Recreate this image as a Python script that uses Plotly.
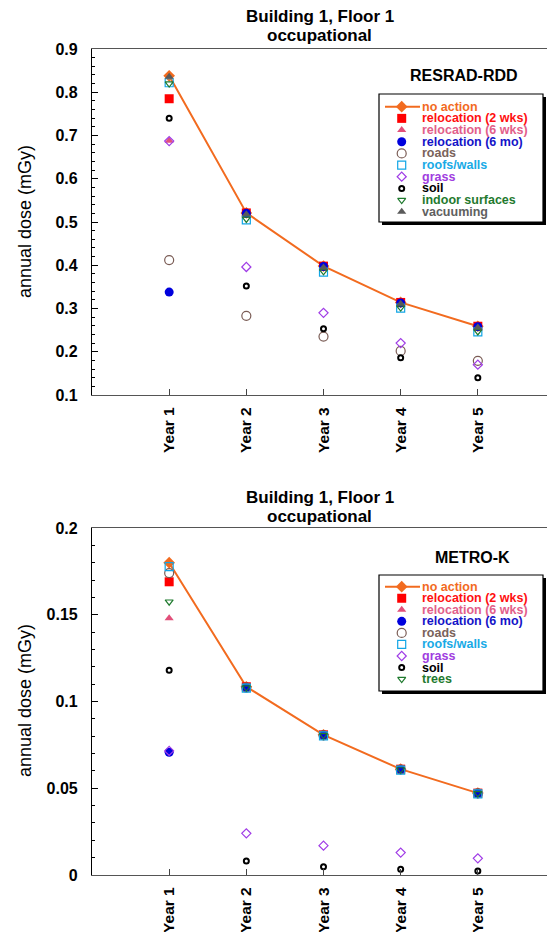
import plotly.graph_objects as go

# page window is 555x932; the html body adds an 8px margin, so the figure is
# sized/offset to fill the window exactly
OFF = 8
W, H = 555 - OFF, 932 - OFF

years = ["Year 1", "Year 2", "Year 3", "Year 4", "Year 5"]
year_pos = [1, 2, 3, 4, 5]

# ---- top panel (RESRAD-RDD) ----
top_no_action = [0.838, 0.521, 0.398, 0.314, 0.259]
top_reloc_2wks = [0.785, 0.521, 0.398, 0.314, 0.259]
top_reloc_6wks = [0.688, 0.520, 0.397, 0.313, 0.258]
top_reloc_6mo = [0.338, 0.520, 0.397, 0.313, 0.258]
top_roads = [0.412, 0.283, 0.235, 0.202, 0.179]
top_roofs = [0.822, 0.505, 0.384, 0.301, 0.246]
top_grass = [0.687, 0.396, 0.290, 0.220, 0.170]
top_soil = [0.740, 0.352, 0.253, 0.186, 0.140]
top_indoor = [0.820, 0.507, 0.386, 0.302, 0.247]
top_vacuum = [0.836, 0.518, 0.395, 0.311, 0.256]

# ---- bottom panel (METRO-K) ----
bot_no_action = [0.180, 0.1085, 0.0808, 0.0610, 0.0472]
bot_reloc_2wks = [0.169, 0.1085, 0.0808, 0.0610, 0.0472]
bot_reloc_6wks = [0.148, 0.1080, 0.0805, 0.0608, 0.0470]
bot_reloc_6mo = [0.0707, 0.1080, 0.0805, 0.0608, 0.0470]
bot_roads = [0.174, 0.1080, 0.0805, 0.0608, 0.0470]
bot_roofs = [0.1777, 0.1077, 0.0802, 0.0605, 0.0468]
bot_grass = [0.0715, 0.0240, 0.0169, 0.0129, 0.0096]
bot_soil = [0.118, 0.0081, 0.0048, 0.0033, 0.0023]
bot_trees = [0.1575, 0.1080, 0.0805, 0.0608, 0.0470]

top_series = [
    ("no action", top_no_action), ("relocation (2 wks)", top_reloc_2wks),
    ("relocation (6 wks)", top_reloc_6wks), ("relocation (6 mo)", top_reloc_6mo),
    ("roads", top_roads), ("roofs/walls", top_roofs), ("grass", top_grass),
    ("soil", top_soil), ("indoor surfaces", top_indoor), ("vacuuming", top_vacuum),
]
bot_series = [
    ("no action", bot_no_action), ("relocation (2 wks)", bot_reloc_2wks),
    ("relocation (6 wks)", bot_reloc_6wks), ("relocation (6 mo)", bot_reloc_6mo),
    ("roads", bot_roads), ("roofs/walls", bot_roofs), ("grass", bot_grass),
    ("soil", bot_soil), ("trees", bot_trees),
]

ORANGE = "#F26B1F"
STY = {
    "no action": dict(symbol="diamond", color=ORANGE, size=9, lw=0, text=ORANGE),
    "relocation (2 wks)": dict(symbol="square", color="#FF0000", size=9, lw=0, text="#FF1010"),
    "relocation (6 wks)": dict(symbol="triangle-up", color="#E2507A", size=8, lw=0, text="#E2608A"),
    "relocation (6 mo)": dict(symbol="circle", color="#0000DD", size=9, lw=0, text="#1414C8"),
    "roads": dict(symbol="circle-open", color="#7A5C55", size=9, lw=1.2, text="#7A625A"),
    "roofs/walls": dict(symbol="square-open", color="#12A6E6", size=8, lw=1.2, text="#18AAE6"),
    "grass": dict(symbol="diamond-open", color="#A03CE6", size=7, lw=1.2, text="#A03CE0"),
    "soil": dict(symbol="circle-open", color="#000000", size=5, lw=2, text="#000000"),
    "indoor surfaces": dict(symbol="triangle-down-open", color="#1F7A2E", size=7, lw=1.2, text="#1F7A2E"),
    "trees": dict(symbol="triangle-down-open", color="#1F7A2E", size=7, lw=1.2, text="#1F7A2E"),
    "vacuuming": dict(symbol="triangle-up", color="#5A5A5A", size=8, lw=0, text="#606060"),
}

FONT = "Liberation Sans, Arial, sans-serif"


def px(x):
    """page pixel x -> paper"""
    return (x - OFF) / W


def py(y):
    """page pixel y -> paper"""
    return 1 - (y - OFF) / H


def marker(name):
    s = STY[name]
    return dict(symbol=s["symbol"], color=s["color"], size=s["size"],
                line=dict(width=s["lw"], color=s["color"]))


fig = go.Figure()

for xa, ya, series in (("x", "y", top_series), ("x2", "y2", bot_series)):
    for name, vals in series:
        if name == "no action":
            fig.add_trace(go.Scatter(x=year_pos, y=vals, mode="lines+markers", name=name,
                                     line=dict(color=ORANGE, width=2), marker=marker(name),
                                     xaxis=xa, yaxis=ya, showlegend=False, cliponaxis=False))
        else:
            fig.add_trace(go.Scatter(x=year_pos, y=vals, mode="markers", name=name,
                                     marker=marker(name), xaxis=xa, yaxis=ya,
                                     showlegend=False, cliponaxis=False))

# ---- custom legends (overlay axis in page-pixel units) ----
shapes = []
annotations = []


def add_legend(series, box, row0, step):
    x0, y0, x1, y1 = box
    shapes.append(dict(type="rect", xref="paper", yref="paper", layer="below",
                       x0=px(x0 + 3), x1=px(x1 + 3), y0=py(y1 + 3), y1=py(y0 + 3),
                       fillcolor="black", line=dict(width=0)))
    shapes.append(dict(type="rect", xref="paper", yref="paper", layer="below",
                       x0=px(x0), x1=px(x1), y0=py(y1), y1=py(y0),
                       fillcolor="white", line=dict(width=1.2, color="black")))
    for i, (name, _) in enumerate(series):
        yy = row0 + i * step
        if name == "no action":
            fig.add_trace(go.Scatter(x=[385, 420], y=[yy, yy], mode="lines",
                                     line=dict(color=ORANGE, width=2), xaxis="x3", yaxis="y3",
                                     showlegend=False, hoverinfo="skip"))
        fig.add_trace(go.Scatter(x=[401.7], y=[yy], mode="markers", marker=marker(name),
                                 xaxis="x3", yaxis="y3", showlegend=False, hoverinfo="skip"))
        annotations.append(dict(xref="paper", yref="paper", x=px(420), y=py(yy),
                                xanchor="left", yanchor="middle", showarrow=False,
                                text="<b>%s</b>" % name,
                                font=dict(family=FONT, size=12.5, color=STY[name]["text"])))


add_legend(top_series, (379, 94, 543, 222), 106.7, 11.67)
add_legend(bot_series, (379, 575, 543, 691), 586.7, 11.55)

for y1, y2 in ((17, 36), (497, 516)):
    annotations.append(dict(xref="paper", yref="paper", x=px(320), y=py(y1), xanchor="center",
                            yanchor="middle", showarrow=False, text="<b>Building 1, Floor 1</b>",
                            font=dict(family=FONT, size=17, color="black")))
    annotations.append(dict(xref="paper", yref="paper", x=px(320), y=py(y2), xanchor="center",
                            yanchor="middle", showarrow=False, text="<b>occupational</b>",
                            font=dict(family=FONT, size=17, color="black")))

annotations.append(dict(xref="paper", yref="paper", x=px(520), y=py(75), xanchor="right",
                        yanchor="middle", showarrow=False, text="<b>RESRAD-RDD</b>",
                        font=dict(family=FONT, size=16, color="black")))
annotations.append(dict(xref="paper", yref="paper", x=px(512), y=py(557), xanchor="right",
                        yanchor="middle", showarrow=False, text="<b>METRO-K</b>",
                        font=dict(family=FONT, size=16, color="black")))

for yc in (222, 701):
    annotations.append(dict(xref="paper", yref="paper", x=px(25), y=py(yc), xanchor="center",
                            yanchor="middle", showarrow=False, textangle=-90,
                            text="annual dose (mGy)",
                            font=dict(family=FONT, size=18, color="black")))

TICKFONT = dict(family=FONT, size=16, color="black", weight="bold")
XTICKFONT = dict(family=FONT, size=15.5, color="black", weight="bold")

xdom = [px(92), 1.0]
common_x = dict(range=[0, 6], tickvals=year_pos, ticktext=years, tickangle=-90,
                ticks="inside", ticklen=6, tickcolor="#444", showline=True, linecolor="#555",
                linewidth=1.2, mirror=True, showgrid=False, zeroline=False,
                tickfont=XTICKFONT, ticklabelstandoff=5, automargin=False,
                domain=xdom)

fig.update_layout(
    template="none",
    width=W, height=H, margin=dict(l=0, r=0, t=0, b=0, pad=0, autoexpand=False),
    paper_bgcolor="white", plot_bgcolor="rgba(0,0,0,0)",
    showlegend=False,
    xaxis=dict(common_x, anchor="y"),
    yaxis=dict(domain=[py(395), py(49)], range=[0.1, 0.9], tick0=0.1, dtick=0.1,
               ticks="inside", ticklen=6, tickcolor="black", showline=True, linecolor="black",
               linewidth=1.2, mirror="allticks", showgrid=False, zeroline=False,
               tickfont=TICKFONT, ticklabelstandoff=10, automargin=False,
               minor=dict(ticks="inside", ticklen=3, dtick=0.02, tickcolor="black", showgrid=False),
               anchor="x"),
    xaxis2=dict(common_x, anchor="y2"),
    yaxis2=dict(domain=[py(875), py(528)], range=[0, 0.2], tick0=0, dtick=0.05,
                ticks="inside", ticklen=6, tickcolor="black", showline=True, linecolor="black",
                linewidth=1.2, mirror="allticks", showgrid=False, zeroline=False,
                tickfont=TICKFONT, ticklabelstandoff=10, automargin=False,
                minor=dict(ticks="inside", ticklen=3, dtick=0.01, tickcolor="black", showgrid=False),
                anchor="x2"),
    xaxis3=dict(domain=[0, 1], range=[OFF, W + OFF], visible=False, anchor="y3",
                fixedrange=True, automargin=False),
    yaxis3=dict(domain=[0, 1], range=[H + OFF, OFF], visible=False, anchor="x3",
                fixedrange=True, automargin=False),
    shapes=shapes,
    annotations=annotations,
)

fig.write_html("out.html")
